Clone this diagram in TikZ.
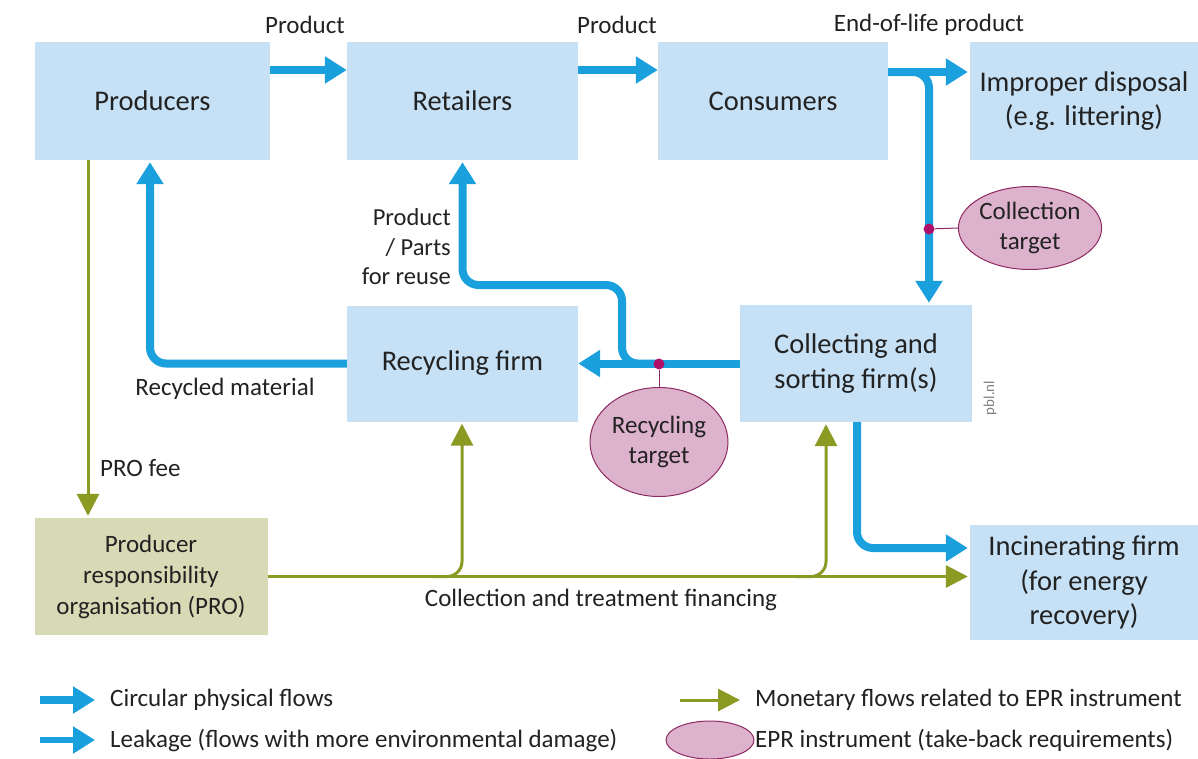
\documentclass[tikz,border=0pt]{standalone}
\usepackage{fontspec}
\setmainfont{Carlito}
\usetikzlibrary{arrows.meta,shapes.geometric,calc}
\definecolor{boxblue}{HTML}{C6E1F6}
\definecolor{flowblue}{HTML}{1AA0DC}
\definecolor{olive}{HTML}{8A9A22}
\definecolor{probox}{HTML}{D7DAB5}
\definecolor{epr}{HTML}{DDB2CD}
\definecolor{eprline}{HTML}{8E2A62}
\definecolor{eprdot}{HTML}{B0106A}
\definecolor{txt}{HTML}{222222}
\tikzset{
  box/.style={fill=boxblue, draw=none, align=center, text=txt, font=\fontsize{28.5}{34.5}\selectfont},
  probx/.style={fill=probox, draw=none, align=center, text=txt, font=\fontsize{25}{31}\selectfont},
  flow/.style={draw=flowblue, line width=8pt, rounded corners=16pt, -{Triangle[length=22pt,width=26pt]}},
  money/.style={draw=olive, line width=3pt, rounded corners=15pt, -{Triangle[length=22pt,width=22pt]}},
  target/.style={ellipse, fill=epr, draw=eprline, line width=1pt, align=center, text=txt, inner sep=0pt, font=\fontsize{25}{30}\selectfont},
  lbl/.style={text=txt, font=\fontsize{25}{30}\selectfont, inner sep=0pt},
  leg/.style={text=txt, font=\fontsize{25}{28}\selectfont, inner sep=0pt, anchor=west},
  dot/.style={circle, fill=eprdot, inner sep=0pt, minimum size=11pt},
}
\begin{document}
\begin{tikzpicture}[x=1pt,y=-1pt]
\useasboundingbox (0,0) rectangle (1198,758);
% boxes
\node[box, minimum width=235pt, minimum height=118pt] (prod) at (152.5,101) {Producers};
\node[box, minimum width=231pt, minimum height=118pt] (ret) at (462.5,101) {Retailers};
\node[box, minimum width=230pt, minimum height=118pt] (cons) at (773,101) {Consumers};
\node[box, minimum width=228pt, minimum height=118pt] (imp) at (1084,101) {Improper disposal\\(e.g. littering)};
\node[box, minimum width=231pt, minimum height=116pt] (rec) at (462.5,363.5) {Recycling firm};
\node[box, minimum width=232pt, minimum height=117pt] (coll) at (856,363.5) {Collecting and\\sorting firm(s)};
\node[probx, minimum width=233pt, minimum height=117pt] (pro) at (151,576.5) {Producer\\responsibility\\organisation (PRO)};
\node[box, minimum width=228pt, minimum height=115pt] (inc) at (1084,582.5) {Incinerating firm\\(for energy\\recovery)};
% targets
\node[target, minimum width=136pt, minimum height=83pt] (ct) at (1030,228) {Collection\\target};
\node[target, minimum width=138pt, minimum height=109pt] (rt) at (659,442) {Recycling\\target};
% physical flows
\draw[flow] ([yshift=31pt]prod.east) -- ([yshift=31pt]ret.west);
\draw[flow] ([yshift=31pt]ret.east) -- ([yshift=31pt]cons.west);
\draw[flow] ([yshift=29pt]cons.east) -- ([yshift=29pt,xshift=-2pt]imp.west);
\coordinate (c1) at (929,72);
\draw[flow] ([yshift=29pt]cons.east) -- (c1) -- ([yshift=2pt]c1 |- coll.north);
\draw[flow] (coll.west) -- (rec.east);
\coordinate (c2) at (622,285);
\draw[flow] ([xshift=-80pt]coll.west) -- (c2 |- coll.west) -- (c2) -| ([yshift=-2pt]ret.south);
\coordinate (c3) at (150,362);
\draw[flow] (rec.west) -| ([yshift=-2pt]c3 |- prod.south);
\coordinate (c4) at (857,548);
\draw[flow] ([xshift=1pt]coll.south) -- (c4) -- ([xshift=-2pt]inc.west |- c4);
% targets dots
\node[dot] (d1) at (929,229) {};
\draw[eprline, line width=1pt] (d1) -- (ct.west);
\node[dot] (d2) at (659,364) {};
\draw[eprline, line width=1pt] (d2) -- (rt.north);
% monetary flows
\draw[money] ([xshift=-64.5pt]prod.south) -- ([xshift=-63pt,yshift=2pt]pro.north);
\draw[money] (pro.east) -- ([xshift=-2pt]inc.west |- pro.east);
\coordinate (m1) at (462,576.5);
\draw[money] ([xshift=-30pt]m1) -- (m1) -- ([yshift=-2pt]m1 |- rec.south);
\coordinate (m2) at (826,576.5);
\draw[money] ([xshift=-30pt]m2) -- (m2) -- ([yshift=-2pt]m2 |- coll.south);
% labels
\node[lbl] (l1) at (305,25) {Product};
\node[lbl] (l2) at (617,25) {Product};
\node[lbl] (l3) at (929,25) {End-of-life product};
\node[lbl, align=right, anchor=east, font=\fontsize{24.5}{29.5}\selectfont] (l4) at (451,247) {Product\\/ Parts\\for reuse};
\node[lbl] (l5) at (225,389) {Recycled material};
\node[lbl, anchor=west] (l6) at (100,468) {PRO fee};
\node[lbl] (l7) at (601,600) {Collection and treatment financing};
\node[rotate=90, text=gray, font=\fontsize{15}{16}\selectfont, inner sep=0pt] (pbl) at (990,398) {pbl.nl};
% legend
\coordinate (a1) at (40,700);
\coordinate (a1e) at (95,700);
\draw[flow] (a1) -- (a1e);
\node[leg] (t1) at (110,700) {Circular physical flows};
\coordinate (a2) at (40,740);
\coordinate (a2e) at (95,740);
\draw[flow, line width=6pt] (a2) -- (a2e);
\node[leg] (t2) at (110,740) {Leakage (flows with more environmental damage)};
\coordinate (a3) at (680,700);
\coordinate (a3e) at (740,700);
\draw[money] (a3) -- (a3e);
\node[leg] (t3) at (755,700) {Monetary flows related to EPR instrument};
\node[ellipse, fill=epr, draw=eprline, line width=1pt, minimum width=88pt, minimum height=38pt, inner sep=0pt] (e4) at (710,740) {};
\node[leg] (t4) at (755,740) {EPR instrument (take-back requirements)};
\end{tikzpicture}
\end{document}
